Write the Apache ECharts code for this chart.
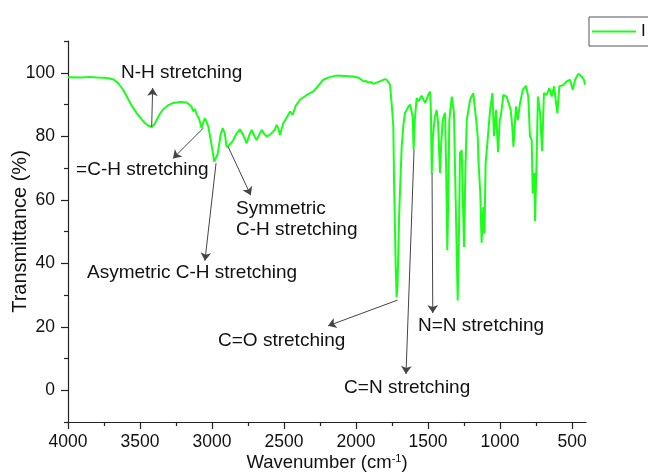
<!DOCTYPE html>
<html lang="en">
  <head>
    <meta charset="utf-8" />
    <style>
      html, body { margin: 0; background: #fff; }
      #container { width: 648px; height: 476px; }
    </style>
    <script src="https://cdn.jsdelivr.net/npm/echarts@6/dist/echarts.min.js"></script>
  </head>
  <body>
    <div id="container"></div>
    <script>
      // spectrum (cm-1, %T)
      var wavenumber = [
        4000, 3900, 3850, 3800, 3750, 3708, 3680, 3651, 3620, 3592, 3560, 3523, 3490, 3465, 3440, 3419,
        3400, 3384, 3360, 3338, 3300, 3269, 3220, 3176, 3155, 3141, 3130, 3120, 3106, 3090, 3072, 3060,
        3049, 3038, 3025, 3000, 2985, 2975, 2960, 2940, 2926, 2912, 2898, 2880, 2852, 2830, 2806, 2785,
        2759, 2740, 2724, 2705, 2690, 2672, 2655, 2638, 2620, 2590, 2565, 2551, 2540, 2528, 2515, 2505,
        2480, 2458, 2440, 2420, 2389, 2342, 2296, 2260, 2227, 2180, 2134, 2080, 2019, 1980, 1949, 1930,
        1915, 1895, 1880, 1840, 1799, 1785, 1764, 1752, 1741, 1736, 1725, 1718, 1712, 1700, 1683, 1670,
        1660, 1640, 1625, 1613, 1606, 1600, 1592, 1579, 1565, 1556, 1545, 1533, 1520, 1509, 1498, 1486,
        1480, 1474, 1466, 1452, 1440, 1430, 1417, 1408, 1398, 1382, 1374, 1366, 1358, 1352, 1335, 1320,
        1308, 1294, 1285, 1278, 1266, 1258, 1250, 1240, 1231, 1208, 1186, 1168, 1155, 1149, 1137, 1128,
        1116, 1108, 1100, 1088, 1069, 1053, 1042, 1028, 1014, 1002, 995, 977, 954, 926, 915, 907,
        889, 877, 861, 842, 820, 804, 792, 780, 773, 762, 757, 746, 737, 722, 708, 695,
        676, 658, 641, 625, 602, 588, 560, 537, 514, 495, 479, 456, 433, 417, 410
      ];
      var transmittance = [
        98.6, 98.5, 98.7, 98.5, 98.4, 98.2, 97.8, 96.7, 94.8, 92.5, 89.8, 87.3, 85.4, 84.1, 83.3, 82.9,
        83.8, 85.1, 87.2, 88.5, 89.9, 90.5, 90.8, 90.6, 89.9, 89.2, 87.8, 88.6, 86.9, 85.5, 82.5, 84.5,
        85.7, 84.5, 82.9, 76.5, 72.0, 71.6, 74.5, 80.5, 82.6, 81.0, 76.6, 77.2, 78.8, 80.8, 82.2, 80.5,
        77.8, 80.5, 82.0, 80.0, 78.8, 80.5, 82.0, 80.8, 79.9, 80.8, 82.0, 83.6, 82.5, 80.4, 82.5, 84.1,
        86.0, 87.8, 86.7, 89.5, 91.5, 93.0, 94.1, 96.0, 97.8, 98.7, 99.1, 99.0, 98.8, 98.4, 97.3, 97.4,
        96.9, 97.1, 96.5, 97.2, 98.0, 97.7, 96.2, 90.0, 83.0, 66.0, 40.0, 29.3, 33.0, 55.8, 76.7, 84.0,
        87.3, 89.0, 90.0, 90.4, 86.0, 75.7, 85.0, 92.0, 91.0, 90.5, 92.8, 92.5, 90.5, 90.4, 93.0, 94.1,
        88.0, 68.3, 80.0, 86.2, 88.3, 84.0, 68.4, 78.0, 85.1, 87.4, 70.0, 44.1, 65.0, 85.1, 92.5, 87.4,
        60.0, 28.3, 50.0, 74.7, 75.6, 60.0, 45.1, 70.0, 85.1, 91.5, 93.6, 86.2, 80.0, 71.5, 62.0, 46.5,
        57.7, 49.4, 71.5, 77.8, 88.3, 93.6, 80.0, 88.3, 75.0, 85.1, 86.2, 93.0, 92.5, 88.3, 83.0, 76.7,
        89.4, 85.1, 90.4, 94.6, 95.9, 92.5, 79.9, 78.8, 62.0, 68.4, 53.3, 72.5, 92.5, 87.4, 75.3, 93.6,
        93.0, 95.2, 92.5, 95.7, 87.3, 95.7, 96.2, 97.3, 97.8, 94.6, 97.8, 99.7, 98.8, 97.8, 96.2
      ];

      var xMajorTicks = [4000, 3500, 3000, 2500, 2000, 1500, 1000, 500];
      var xMinorTicks = [3750, 3250, 2750, 2250, 1750, 1250, 750];
      var yMajorTicks = [0, 20, 40, 60, 80, 100];
      var yMinorTicks = [-10, 10, 30, 50, 70, 90, 110];

      // band annotations: arrow from (w0,t0) to (w1,t1)
      var arrows = [
        [3419, 83.0, 3412, 95.2],
        [3062, 82.5, 3271, 73.0],
        [2972, 71.5, 3049, 40.8],
        [2888, 76.7, 2731, 61.4],
        [1711, 28.4, 2194, 20.3],
        [1597, 75.7, 1653, 5.1],
        [1472, 68.4, 1467, 24.3]
      ];
      // text, left edge wavenumber, vertical centre %T
      var notes = [
        ["N-H stretching", 3632, 99.9],
        ["=C-H stretching", 3944, 69.3],
        ["Asymetric C-H stretching", 3868, 36.9],
        ["Symmetric", 2833, 57.3],
        ["C-H stretching", 2833, 50.4],
        ["C=O stretching", 2958, 15.6],
        ["C=N stretching", 2083, 0.9],
        ["N=N stretching", 1570, 20.4]
      ];

      var FONT = "'Liberation Sans', Arial, sans-serif";
      var chart = echarts.init(document.getElementById("container"), null, { renderer: "canvas" });

      var points = wavenumber.map(function (w, i) { return [w, transmittance[i]]; });
      var arrowData = arrows.map(function (a) {
        return [{ coord: [a[0], a[1]] }, { coord: [a[2], a[3]] }];
      });
      var plain = function (v) { return String(v); };

      var xBase = {
        type: "value", min: 403, max: 4000, inverse: true, position: "bottom",
        splitLine: { show: false }
      };
      var yBase = {
        type: "value", min: -10, max: 110, position: "left",
        splitLine: { show: false }
      };
      var axisInk = { color: "#222", width: 1.2 };

      chart.setOption({
        animation: false,
        textStyle: { fontFamily: FONT },
        grid: { left: 68, right: 62, top: 41, bottom: 54, containLabel: false, outerBoundsMode: "none" },
        legend: {
          left: 589, top: 17,
          padding: [6, 14, 6, 3],
          itemWidth: 44, itemHeight: 2, itemGap: 4,
          borderColor: "#555", borderWidth: 1,
          textStyle: { fontFamily: FONT, fontSize: 17, color: "#111" },
          data: [{ name: "I", icon: "rect" }]
        },
        xAxis: [
          Object.assign({}, xBase, {
            name: "{a|Wavenumber (cm}{s|-1}{a|)}",
            nameLocation: "middle",
            nameGap: 31,
            nameMoveOverlap: false,
            nameTextStyle: {
              rich: {
                a: { fontFamily: FONT, fontSize: 18.5, color: "#111" },
                s: { fontFamily: FONT, fontSize: 11, color: "#111", padding: [0, 0, 9, 0] }
              }
            },
            axisLine: { onZero: false, lineStyle: axisInk },
            axisTick: { customValues: xMajorTicks, length: 7, lineStyle: axisInk },
            axisLabel: { customValues: xMajorTicks, formatter: plain, margin: 11, fontSize: 17.5, color: "#111", fontFamily: FONT }
          }),
          Object.assign({}, xBase, {
            axisLine: { show: false, onZero: false },
            axisLabel: { show: false },
            axisTick: { customValues: xMinorTicks, length: 4, lineStyle: axisInk }
          })
        ],
        yAxis: [
          Object.assign({}, yBase, {
            name: "Transmittance (%)",
            nameLocation: "middle",
            nameGap: 38,
            nameMoveOverlap: false,
            nameTextStyle: { fontSize: 20, color: "#111", fontFamily: FONT },
            axisLine: { show: true, onZero: false, lineStyle: axisInk },
            axisTick: { show: true, customValues: yMajorTicks, length: 7, lineStyle: axisInk },
            axisLabel: { customValues: yMajorTicks, formatter: plain, margin: 13, fontSize: 17.5, color: "#111", fontFamily: FONT }
          }),
          Object.assign({}, yBase, {
            axisLine: { show: false, onZero: false },
            axisLabel: { show: false },
            axisTick: { show: true, customValues: yMinorTicks, length: 4, lineStyle: axisInk }
          })
        ],
        series: [
          {
            name: "I",
            type: "line",
            data: points,
            symbol: "none",
            lineStyle: { color: "#1aff1a", width: 2 },
            itemStyle: { color: "#1aff1a" },
            markLine: {
              silent: true,
              symbol: ["none", "arrow"],
              symbolSize: 8,
              label: { show: false },
              lineStyle: { color: "#444", width: 1, type: "solid" },
              itemStyle: { color: "#222" },
              emphasis: { disabled: true },
              data: arrowData
            }
          }
        ]
      });

      // place annotation texts through the axes' scales
      var texts = notes.map(function (n) {
        var p = chart.convertToPixel({ xAxisIndex: 0, yAxisIndex: 0 }, [n[1], n[2]]);
        return {
          type: "text",
          x: p[0], y: p[1],
          style: {
            text: n[0],
            font: "19px " + FONT,
            fill: "#111",
            align: "left",
            verticalAlign: "middle"
          }
        };
      });
      chart.setOption({ graphic: texts });
    </script>
  </body>
</html>
